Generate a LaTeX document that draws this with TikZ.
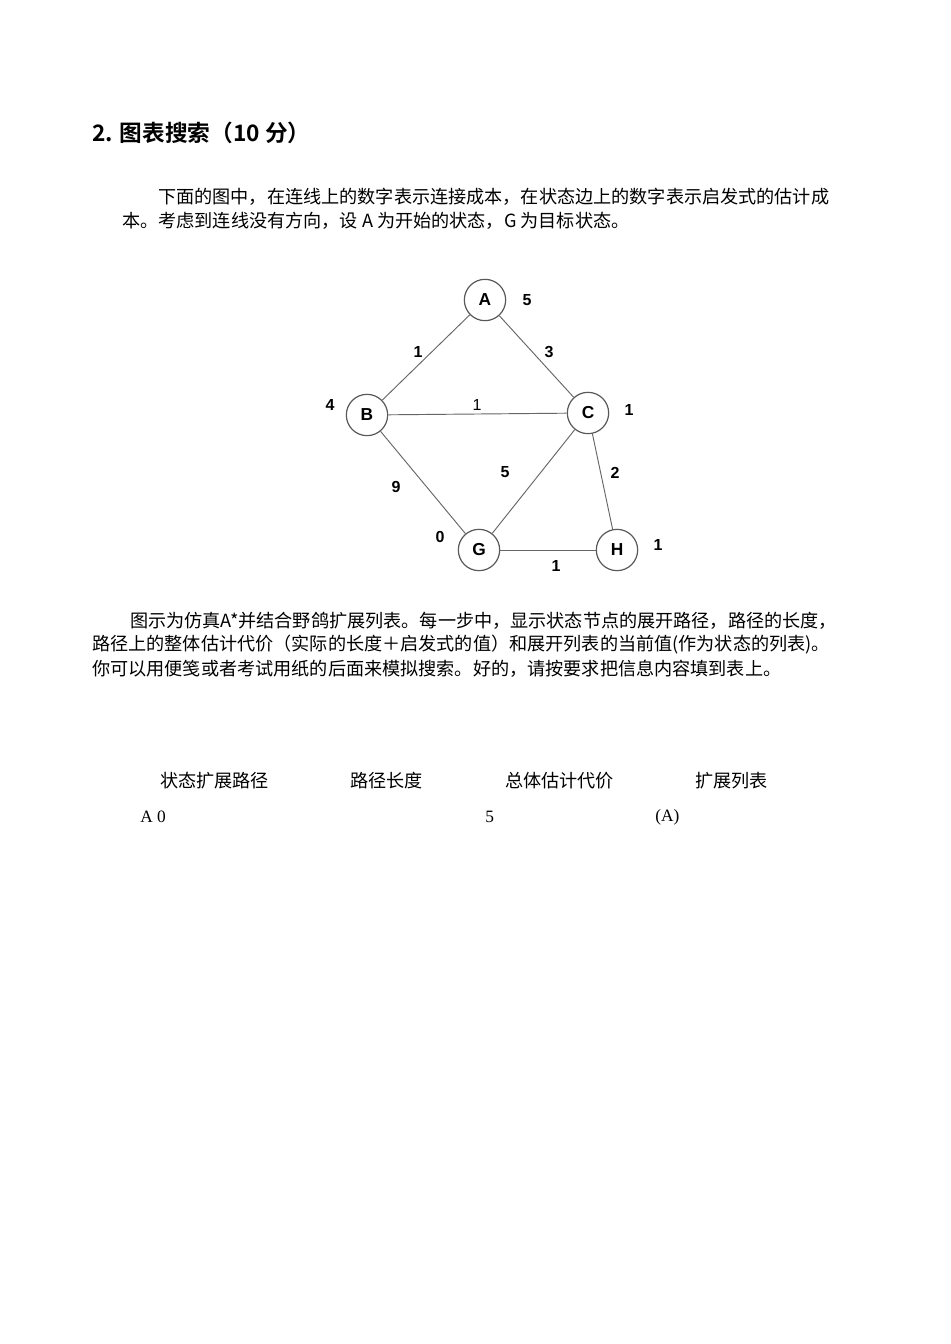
\documentclass[tikz,border=0pt]{standalone}
\usepackage{fontspec}
\setmainfont{Liberation Serif}
\newfontfamily\cjk{Noto Sans CJK SC}
\newfontfamily\cjkb{Noto Sans CJK SC Bold}
\newfontfamily\gsans{Liberation Sans}
\begin{document}
\begin{tikzpicture}[x=0.75pt,y=-0.75pt,
  txt/.style={anchor=west,inner sep=0pt,font=\cjk\fontsize{13.6}{16}\selectfont},
  st/.style={circle,draw=black!65,line width=0.9pt,minimum size=31pt,inner sep=0pt,font=\gsans\bfseries\fontsize{13}{15}\selectfont},
  num/.style={inner sep=0pt,font=\gsans\bfseries\fontsize{12}{14}\selectfont},
  edge/.style={draw=black!60,line width=0.7pt}]
\path[use as bounding box,fill=white] (0,0) rectangle (950,1344);
\node[anchor=west,inner sep=0pt,font=\cjkb\fontsize{17}{20}\selectfont] (title) at (92,133) {2. 图表搜索（10 分）};
\node[txt] (p1) at (158,197) {下面的图中，在连线上的数字表示连接成本，在状态边上的数字表示启发式的估计成};
\node[txt] (p2) at (122,221) {本。考虑到连线没有方向，设 A 为开始的状态，G 为目标状态。};
\node[st] (A) at (485,300) {A};
\node[st] (B) at (367,415) {B};
\node[st] (C) at (588,413) {C};
\node[st] (G) at (479,550) {G};
\node[st] (H) at (617,550) {H};
\draw[edge] (A)--(B); \draw[edge] (A)--(C); \draw[edge] (B)--(C);
\draw[edge] (B)--(G); \draw[edge] (C)--(G); \draw[edge] (C)--(H); \draw[edge] (G)--(H);
\node[num] (hA) at (527,300) {5};
\node[num] (eAB) at (418,352) {1};
\node[num] (eAC) at (549,352) {3};
\node[num] (hB) at (330,405) {4};
\node[num,font=\gsans\fontsize{12}{14}\selectfont] (eBC) at (477,405) {1};
\node[num] (hC) at (629,410) {1};
\node[num] (eBG) at (396,487) {9};
\node[num] (eCG) at (505,472) {5};
\node[num] (eCH) at (615,473) {2};
\node[num] (hG) at (440,537) {0};
\node[num] (eGH) at (556,566) {1};
\node[num] (hH) at (658,545) {1};
\node[txt] (q1) at (130,621) {图示为仿真A*并结合野鸽扩展列表。每一步中，显示状态节点的展开路径，路径的长度，};
\node[txt] (q2) at (92,645) {路径上的整体估计代价（实际的长度＋启发式的值）和展开列表的当前值(作为状态的列表)。};
\node[txt] (q3) at (92,669) {你可以用便笺或者考试用纸的后面来模拟搜索。好的，请按要求把信息内容填到表上。};
\node[txt] (h1) at (160,781) {状态扩展路径};
\node[txt] (h2) at (350,781) {路径长度};
\node[txt] (h3) at (505,781) {总体估计代价};
\node[txt] (h4) at (695,781) {扩展列表};
\node[txt,font=\fontsize{13}{15}\selectfont] (r1) at (140,817) {A 0};
\node[txt,font=\fontsize{13}{15}\selectfont] (r2) at (485,817) {5};
\node[txt,font=\fontsize{13}{15}\selectfont] (r3) at (655,817) {(A)};
\end{tikzpicture}
\end{document}
